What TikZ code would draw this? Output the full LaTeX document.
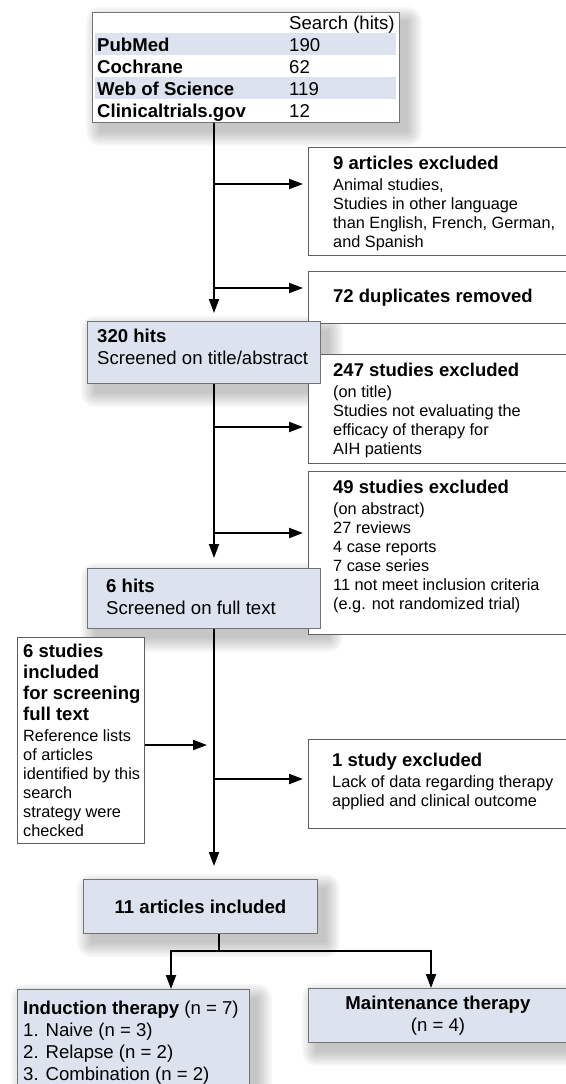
\documentclass[tikz,border=0pt]{standalone}
\usepackage{fontspec}
\setmainfont{Liberation Sans}
\usepackage{xcolor}
\usepackage{tikz}
\usetikzlibrary{positioning,arrows.meta,backgrounds}

\definecolor{boxblue}{RGB}{220,227,239}
\definecolor{edgegray}{RGB}{95,95,95}
\newcommand{\boxhead}[1]{{\fontsize{18.5}{21}\selectfont\bfseries #1}}

\begin{document}
\begin{tikzpicture}[
  x=1pt, y=1pt,
  exbox/.style={draw=edgegray, line width=0.9pt, fill=white, inner sep=0pt, anchor=north west},
  bluebox/.style={exbox, fill=boxblue, draw=black!55},
  boxtxt/.style={inner sep=0pt, anchor=north west, align=left, font=\fontsize{16.3}{19}\selectfont},
  bluetxt/.style={inner sep=0pt, anchor=north west, align=left, font=\fontsize{18.6}{22}\selectfont},
  lin/.style={line width=2pt},
  arr/.style={lin, -{Triangle[length=14pt, width=10pt]}}
]
\useasboundingbox (0,0) rectangle (565,-1084);

% search table
\node[bluebox, fill=white, minimum width=307pt, minimum height=110pt] (search) at (92,-12) {};
\fill[boxblue] (95,-33) rectangle (396,-55);
\fill[boxblue] (95,-77) rectangle (396,-99);
\node[bluetxt, anchor=base west] (hitsHead) at (289,-29) {Search (hits)};
\foreach \db/\hits/\y [count=\i] in {PubMed/190/51, Cochrane/62/73, Web of Science/119/95, Clinicaltrials.gov/12/117} {
  \node[bluetxt, anchor=base west, font=\fontsize{18.6}{22}\selectfont\bfseries] (db\i) at (97,-\y) {\db};
  \node[bluetxt, anchor=base west] (hit\i) at (289,-\y) {\hits};
}

% excluded boxes
\node[exbox, minimum width=259pt, minimum height=108pt] (excl9) at (308,-147) {};
\node[boxtxt] (excl9t) at ([shift={(25,-9)}]excl9.north west) {\boxhead{9 articles excluded}\\[2pt]Animal studies,\\Studies in other language\\than English, French, German,\\and Spanish};
\node[exbox, minimum width=259pt, minimum height=52pt] (dup72) at (308,-271) {};
\node[boxtxt] (dup72t) at ([shift={(25,-18)}]dup72.north west) {\boxhead{72 duplicates removed}};
\node[exbox, minimum width=259pt, minimum height=109pt] (excl247) at (308,-354) {};
\node[boxtxt] (excl247t) at ([shift={(25,-9)}]excl247.north west) {\boxhead{247 studies excluded}\\[2pt](on title)\\Studies not evaluating the\\efficacy of therapy for\\AIH patients};
\node[exbox, minimum width=259pt, minimum height=163pt] (excl49) at (308,-471) {};
\node[boxtxt] (excl49t) at ([shift={(25,-9)}]excl49.north west) {\boxhead{49 studies excluded}\\[2pt](on abstract)\\27 reviews\\4 case reports\\7 case series\\11 not meet inclusion criteria\\(e.g. not randomized trial)};
\node[exbox, minimum width=127pt, minimum height=206pt] (refs6) at (17,-637) {};
\node[boxtxt] (refs6t) at ([shift={(6,-7)}]refs6.north west) {\boxhead{6 studies}\\[2pt]\boxhead{included}\\[2pt]\boxhead{for screening}\\[2pt]\boxhead{full text}\\[2pt]Reference lists\\of articles\\identified by this\\search\\strategy were\\checked};
\node[exbox, minimum width=259pt, minimum height=89pt] (excl1) at (308,-739) {};
\node[boxtxt] (excl1t) at ([shift={(24,-14)}]excl1.north west) {\boxhead{1 study excluded}\\[2pt]Lack of data regarding therapy\\applied and clinical outcome};

% screening stages
\node[bluebox, minimum width=233pt, minimum height=62pt] (hits320) at (87,-321) {};
\node[bluetxt] (hits320t) at ([shift={(10,-8)}]hits320.north west) {\textbf{320 hits}\\Screened on title/abstract};
\node[bluebox, minimum width=233pt, minimum height=60pt] (hits6) at (87,-568) {};
\node[bluetxt] (hits6t) at ([shift={(19,-11)}]hits6.north west) {\textbf{6 hits}\\Screened on full text};
\node[bluebox, minimum width=234pt, minimum height=54pt, font=\fontsize{18.6}{22}\selectfont\bfseries] (incl11) at (83,-879) {11 articles included};
\node[bluebox, minimum width=232pt, minimum height=110pt] (induct) at (17,-989) {};
\node[bluetxt] (inductt) at ([shift={(6,-12)}]induct.north west) {\textbf{Induction therapy} (n = 7)\\1. Naive (n = 3)\\2. Relapse (n = 2)\\3. Combination (n = 2)};
\node[bluebox, minimum width=259pt, minimum height=54pt, align=center, font=\fontsize{18.6}{22}\selectfont] (maint) at (308,-988) {\textbf{Maintenance therapy}\\(n = 4)};

% soft shadows
\begin{pgfonlayer}{background}
\foreach \stage in {search,hits320,hits6,incl11,induct,maint}
  \foreach \k in {0,2,...,14}
    \fill[black, opacity=0.03, rounded corners=\k pt] ([shift={(8-\k,-9+\k)}]\stage.north west) rectangle ([shift={(8+\k,-9-\k)}]\stage.south east);
\end{pgfonlayer}

% trunk and branches
\coordinate (b1) at (214,-184);
\coordinate (b2) at (214,-288);
\coordinate (b3) at (214,-427);
\coordinate (b4) at (214,-533);
\coordinate (j1) at (214,-745);
\coordinate (b5) at (214,-779);
\draw[arr, shorten >=8pt] (search.south -| b1) -- (hits320.north -| b1);
\draw[arr, shorten >=5pt] (b1) -- (b1 -| excl9.west);
\draw[arr, shorten >=5pt] (b2) -- (b2 -| dup72.west);
\draw[arr, shorten >=10pt] (hits320.south -| b3) -- (hits6.north -| b3);
\draw[arr, shorten >=5pt] (b3) -- (b3 -| excl247.west);
\draw[arr, shorten >=5pt] (b4) -- (b4 -| excl49.west);
\draw[arr, shorten >=13pt] (hits6.south -| b5) -- (incl11.north -| b5);
\draw[arr, shorten >=7pt] (refs6.east |- j1) -- (j1);
\draw[arr, shorten >=5pt] (b5) -- (b5 -| excl1.west);

% split
\coordinate (s0) at (219,-951);
\coordinate (sL) at (171,-951);
\coordinate (sR) at (431,-951);
\draw[lin] (incl11.south -| s0) -- (s0);
\draw[arr] (s0) -| (sL |- induct.north);
\draw[arr] (s0) -| (sR |- maint.north);
\end{tikzpicture}
\end{document}
